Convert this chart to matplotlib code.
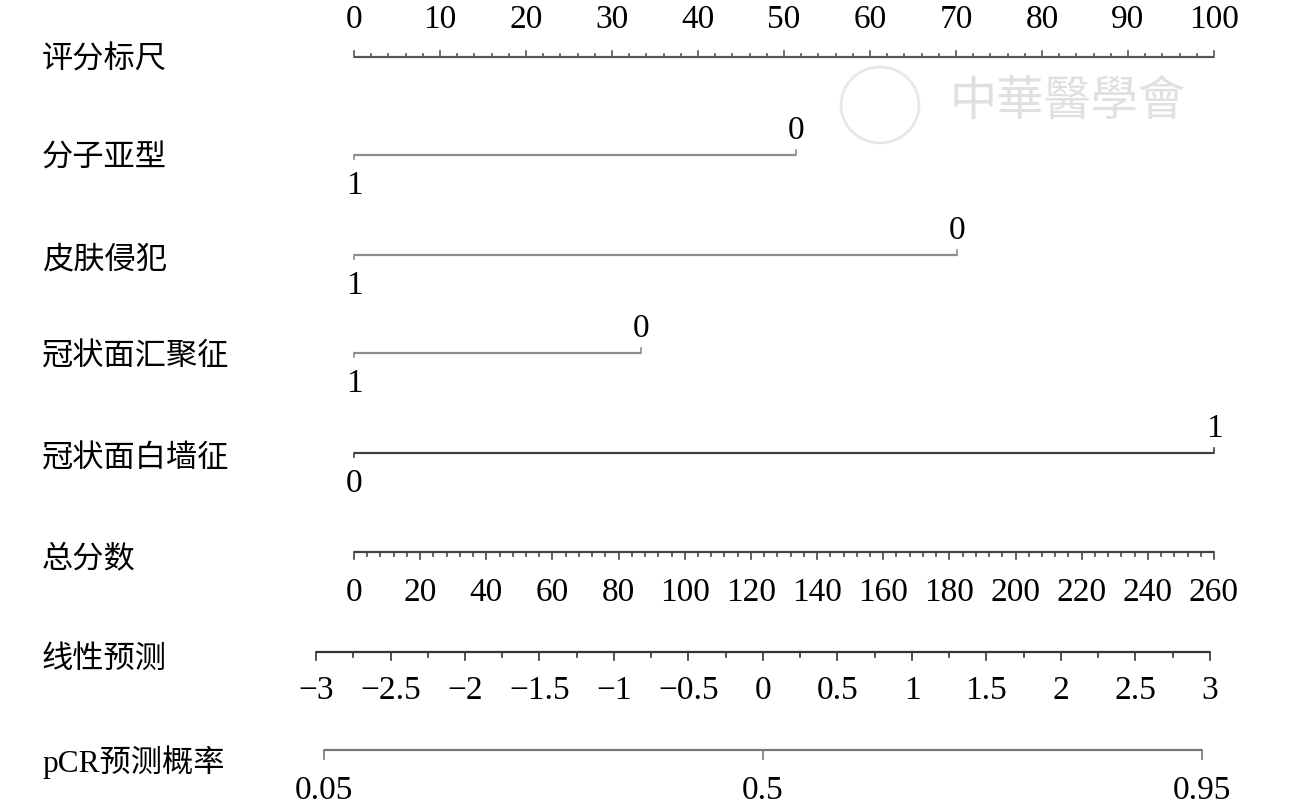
import numpy as np
import matplotlib

matplotlib.use("Agg")
import matplotlib.pyplot as plt
from matplotlib.patches import Ellipse

plt.rcParams["font.family"] = ["Liberation Serif", "Noto Sans CJK SC", "DejaVu Sans"]

# nomogram data
row_names = ["评分标尺", "分子亚型", "皮肤侵犯", "冠状面汇聚征", "冠状面白墙征", "总分数", "线性预测", "pCR预测概率"]
points_ticks = list(range(0, 101, 10))
var_levels = [["1", "0"], ["1", "0"], ["1", "0"], ["0", "1"]]
var_points = [[0, 51.4], [0, 70.1], [0, 33.4], [0, 100]]
var_colors = ["#8c8c8c", "#8c8c8c", "#8c8c8c", "#404040"]
total_ticks = list(range(0, 261, 20))
total_max = 260
lp_ticks = [-3, -2.5, -2, -1.5, -1, -0.5, 0, 0.5, 1, 1.5, 2, 2.5, 3]
lp_labels = ["\u22123", "\u22122.5", "\u22122", "\u22121.5", "\u22121", "\u22120.5", "0", "0.5", "1", "1.5", "2", "2.5", "3"]
lp_at_total0 = -2.745
lp_per_total = 0.0222
prob_ticks = [0.05, 0.5, 0.95]
prob_labels = ["0.05", "0.5", "0.95"]

# layout (pixel rows from the top)
row_y = [57, 155, 255, 353, 453, 552, 652, 750]
name_y = [61, 159, 261, 358, 460, 560, 660, 762]
px_per_point = 8.6
x_zero_px = 354
fig_w, fig_h = 1299, 809


def total_to_pts(t):
    return np.asarray(t, dtype=float) * 100 / total_max


def lp_to_pts(lp):
    return total_to_pts((np.asarray(lp, dtype=float) - lp_at_total0) / lp_per_total)


def prob_to_pts(p):
    p = np.asarray(p, dtype=float)
    return lp_to_pts(np.log(p / (1 - p)))


fig = plt.figure(figsize=(fig_w / 100, fig_h / 100), dpi=100)
ax = fig.add_axes([0, 0, 1, 1])
ax.set_xlim(-x_zero_px / px_per_point, (fig_w - x_zero_px) / px_per_point)
ax.set_ylim(fig_h, 0)
ax.axis("off")

fs = 24      # numbers
fs_cn = 22.5  # row names
name_x = (42 - x_zero_px) / px_per_point

for name, y in zip(row_names, name_y):
    ax.text(name_x, y, name, fontsize=fs_cn, ha="left", va="center")

# watermark
ax.add_patch(Ellipse(((880 - x_zero_px) / px_per_point, 105), 78 / px_per_point, 76,
                     fill=False, ec="#e8e8e8", lw=2, zorder=0))
ax.text((950 - x_zero_px) / px_per_point, 103, "中華醫學會", fontsize=34, color="#e0e0e0",
        ha="left", va="center", style="italic", zorder=0)

# points scale
y = row_y[0]
ax.plot([0, 100], [y, y], color="#555555", lw=1.6, solid_capstyle="butt")
for v in np.arange(0, 101, 2):
    major = v % 10 == 0
    ax.plot([v, v], [y, y - (6 if major else 3)], color="#555555", lw=1.2)
for v in points_ticks:
    ax.text(v, 20, str(v), fontsize=fs, ha="center", va="center")

# predictor rows
for levels, pts, color, y in zip(var_levels, var_points, var_colors, row_y[1:5]):
    ax.plot(pts, [y, y], color=color, lw=1.6, solid_capstyle="butt")
    ax.plot([pts[0], pts[0]], [y, y + 4], color=color, lw=1.2)
    ax.plot([pts[1], pts[1]], [y, y - 5], color=color, lw=1.2)
    ax.text(pts[0], y + 31, levels[0], fontsize=fs, ha="center", va="center")
    ax.text(pts[1], y - 24, levels[1], fontsize=fs, ha="center", va="center")

# total points
y = row_y[5]
ax.plot(total_to_pts([0, total_max]), [y, y], color="#444444", lw=1.6, solid_capstyle="butt")
for v in range(0, total_max + 1, 4):
    x = total_to_pts(v)
    ax.plot([x, x], [y, y + (7 if v % 20 == 0 else 4)], color="#444444", lw=1.2)
for v in total_ticks:
    ax.text(total_to_pts(v), 593, str(v), fontsize=fs, ha="center", va="center")

# linear predictor
y = row_y[6]
lp_x = lp_to_pts([lp_ticks[0], lp_ticks[-1]])
ax.plot(lp_x, [y, y], color="#333333", lw=1.6, solid_capstyle="butt")
for v in np.arange(-3, 3.01, 0.25):
    x = lp_to_pts(v)
    ax.plot([x, x], [y, y + (8 if abs(v * 2 - round(v * 2)) < 1e-9 else 5)], color="#333333", lw=1.2)
for v, lab in zip(lp_ticks, lp_labels):
    ax.text(lp_to_pts(v), 691, lab, fontsize=fs, ha="center", va="center")

# probability
y = row_y[7]
px = prob_to_pts(prob_ticks)
ax.plot([px[0], px[-1]], [y, y], color="#777777", lw=1.6, solid_capstyle="butt")
for x, lab in zip(px, prob_labels):
    ax.plot([x, x], [y, y + 9], color="#777777", lw=1.2)
    ax.text(x, 791, lab, fontsize=fs, ha="center", va="center")

fig.savefig("out.png", dpi=100)
